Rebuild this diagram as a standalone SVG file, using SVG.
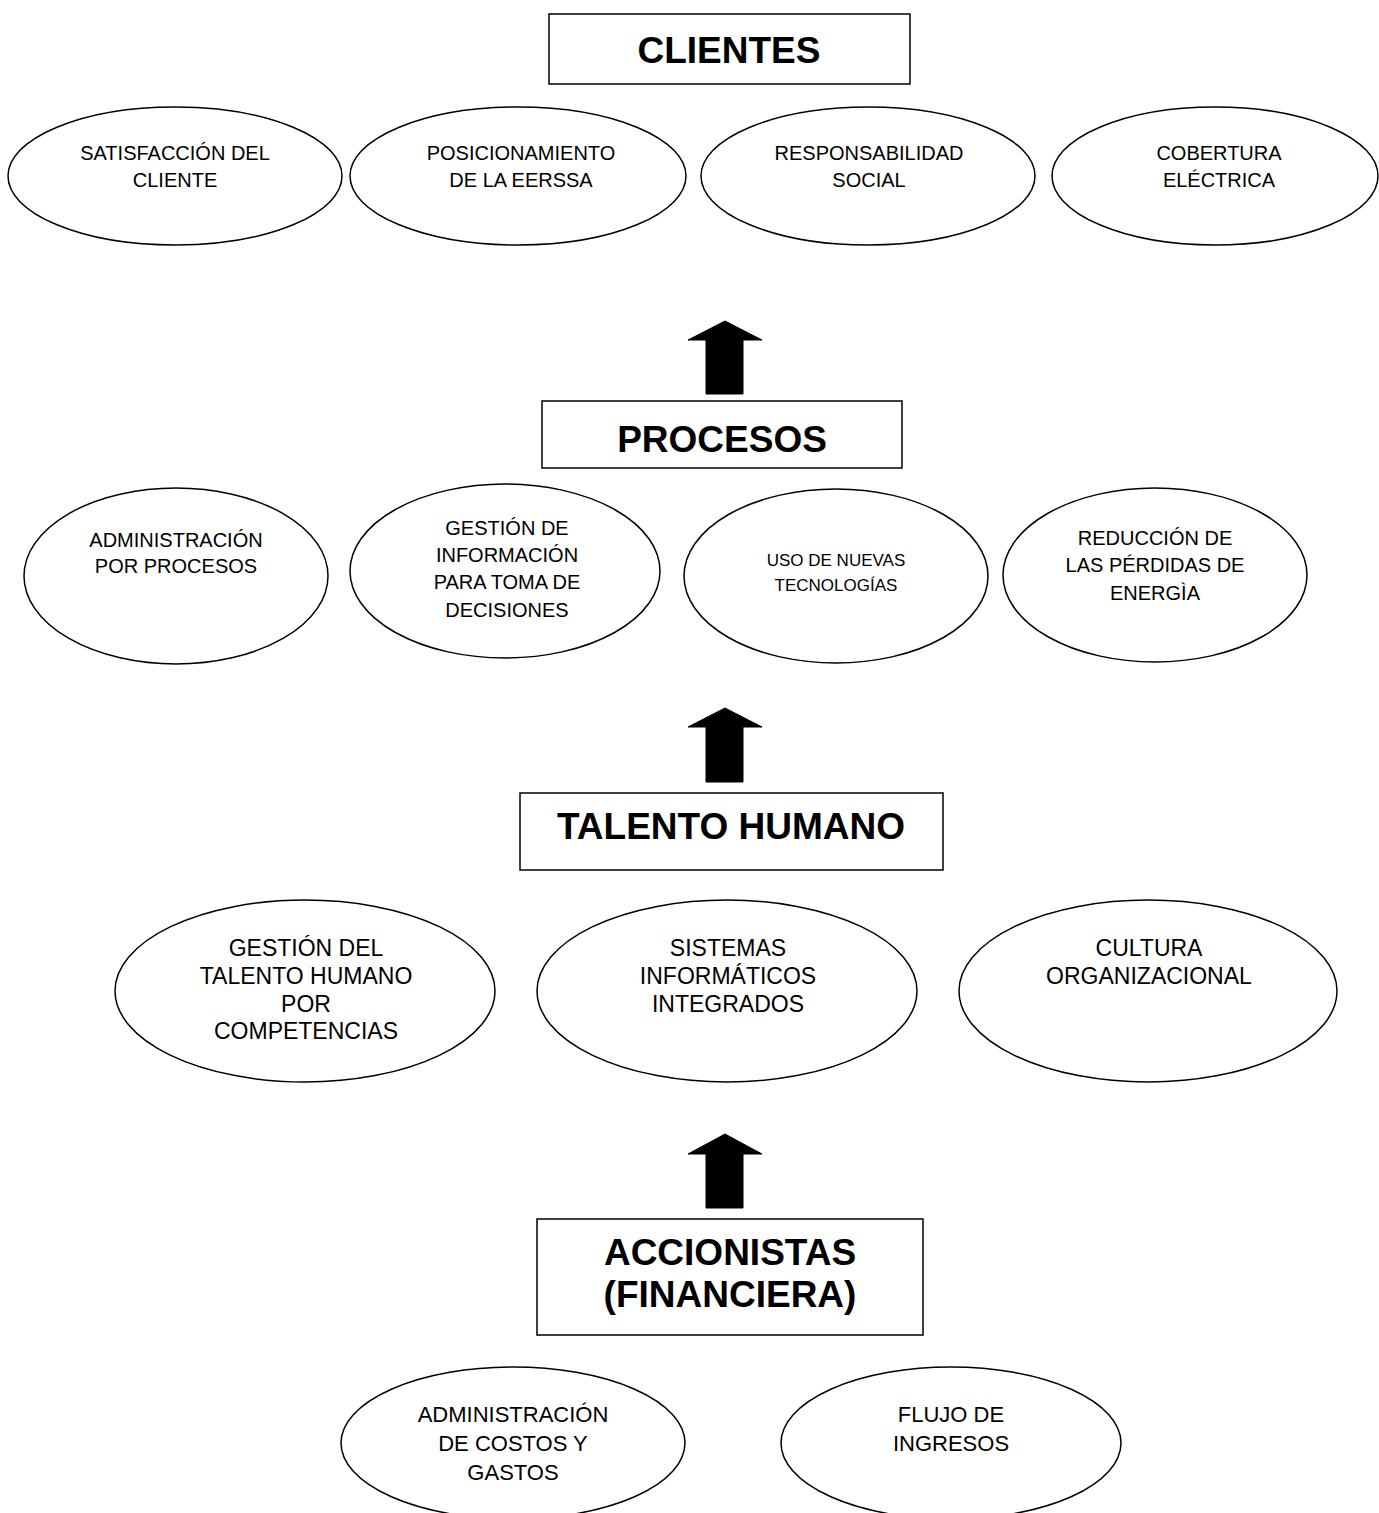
<svg xmlns="http://www.w3.org/2000/svg" width="1379" height="1513" viewBox="0 0 1379 1513">
<style>
.bg{fill:#fff}
.box{fill:#fff;stroke:#000;stroke-width:1.5}
.ell{fill:#fff;stroke:#000;stroke-width:1.5}
.h{font-family:"Liberation Sans",Arial,sans-serif;font-weight:bold;font-size:37px;fill:#000;text-anchor:middle}
.t{font-family:"Liberation Sans",Arial,sans-serif;font-size:20px;fill:#000;text-anchor:middle}
.t17{font-size:17px}
.t22{font-size:22px}
.t23{font-size:23px}
.arr{fill:#000;stroke:#000;stroke-width:1}
</style>
<rect class="bg" x="0" y="0" width="1379" height="1513"/>

<g id="clientes">
<rect class="box" x="549" y="14" width="361" height="70"/>
<text class="h" x="729" y="63">CLIENTES</text>
</g>
<g id="satisfaccion">
<ellipse class="ell" cx="175" cy="176" rx="167" ry="69"/>
<text class="t" x="175" y="160">SATISFACCIÓN DEL</text>
<text class="t" x="175" y="187">CLIENTE</text>
</g>
<g id="posicionamiento">
<ellipse class="ell" cx="518" cy="176" rx="168" ry="69"/>
<text class="t" x="521" y="160">POSICIONAMIENTO</text>
<text class="t" x="521" y="187">DE LA EERSSA</text>
</g>
<g id="responsabilidad">
<ellipse class="ell" cx="868" cy="176" rx="167" ry="69"/>
<text class="t" x="869" y="160">RESPONSABILIDAD</text>
<text class="t" x="869" y="187">SOCIAL</text>
</g>
<g id="cobertura">
<ellipse class="ell" cx="1215" cy="176" rx="163" ry="69"/>
<text class="t" x="1219" y="160">COBERTURA</text>
<text class="t" x="1219" y="187">ELÉCTRICA</text>
</g>

<g id="procesos">
<rect class="box" x="542" y="401" width="360" height="67"/>
<text class="h" x="722" y="452">PROCESOS</text>
</g>
<g id="admin-procesos">
<ellipse class="ell" cx="176" cy="576" rx="152" ry="88"/>
<text class="t" x="176" y="547">ADMINISTRACIÓN</text>
<text class="t" x="176" y="573">POR PROCESOS</text>
</g>
<g id="gestion-informacion">
<ellipse class="ell" cx="505" cy="571" rx="155" ry="87"/>
<text class="t" x="507" y="535">GESTIÓN DE</text>
<text class="t" x="507" y="562">INFORMACIÓN</text>
<text class="t" x="507" y="589">PARA TOMA DE</text>
<text class="t" x="507" y="617">DECISIONES</text>
</g>
<g id="nuevas-tecnologias">
<ellipse class="ell" cx="836" cy="576" rx="152" ry="87"/>
<text class="t t17" x="836" y="566">USO DE NUEVAS</text>
<text class="t t17" x="836" y="591">TECNOLOGÍAS</text>
</g>
<g id="reduccion-perdidas">
<ellipse class="ell" cx="1155" cy="575" rx="152" ry="87"/>
<text class="t" x="1155" y="545">REDUCCIÓN DE</text>
<text class="t" x="1155" y="572">LAS PÉRDIDAS DE</text>
<text class="t" x="1155" y="600">ENERGÌA</text>
</g>

<g id="talento-humano">
<rect class="box" x="520" y="793" width="423" height="77"/>
<text class="h" x="731" y="839">TALENTO HUMANO</text>
</g>
<g id="gestion-talento">
<ellipse class="ell" cx="305" cy="991" rx="190" ry="91"/>
<text class="t t23" x="306" y="956">GESTIÓN DEL</text>
<text class="t t23" x="306" y="984">TALENTO HUMANO</text>
<text class="t t23" x="306" y="1012">POR</text>
<text class="t t23" x="306" y="1039">COMPETENCIAS</text>
</g>
<g id="sistemas-informaticos">
<ellipse class="ell" cx="727" cy="991" rx="190" ry="91"/>
<text class="t t23" x="728" y="956">SISTEMAS</text>
<text class="t t23" x="728" y="984">INFORMÁTICOS</text>
<text class="t t23" x="728" y="1012">INTEGRADOS</text>
</g>
<g id="cultura">
<ellipse class="ell" cx="1148" cy="991" rx="189" ry="91"/>
<text class="t t23" x="1149" y="956">CULTURA</text>
<text class="t t23" x="1149" y="984">ORGANIZACIONAL</text>
</g>

<g id="accionistas">
<rect class="box" x="537" y="1219" width="386" height="116"/>
<text class="h" x="730" y="1265">ACCIONISTAS</text>
<text class="h" x="730" y="1307">(FINANCIERA)</text>
</g>
<g id="costos-gastos">
<ellipse class="ell" cx="513" cy="1443" rx="172" ry="76"/>
<text class="t t22" x="513" y="1422">ADMINISTRACIÓN</text>
<text class="t t22" x="513" y="1451">DE COSTOS Y</text>
<text class="t t22" x="513" y="1480">GASTOS</text>
</g>
<g id="flujo-ingresos">
<ellipse class="ell" cx="951" cy="1443" rx="170" ry="76"/>
<text class="t t22" x="951" y="1422">FLUJO DE</text>
<text class="t t22" x="951" y="1451">INGRESOS</text>
</g>

<g id="connectors">
<polygon class="arr" points="725,321 762,340 743,340 743,394 706,394 706,340 688,340"/>
<polygon class="arr" points="725,708 762,727 743,727 743,782 706,782 706,727 688,727"/>
<polygon class="arr" points="725,1134 762,1154 743,1154 743,1208 706,1208 706,1154 688,1154"/>
</g>
</svg>
